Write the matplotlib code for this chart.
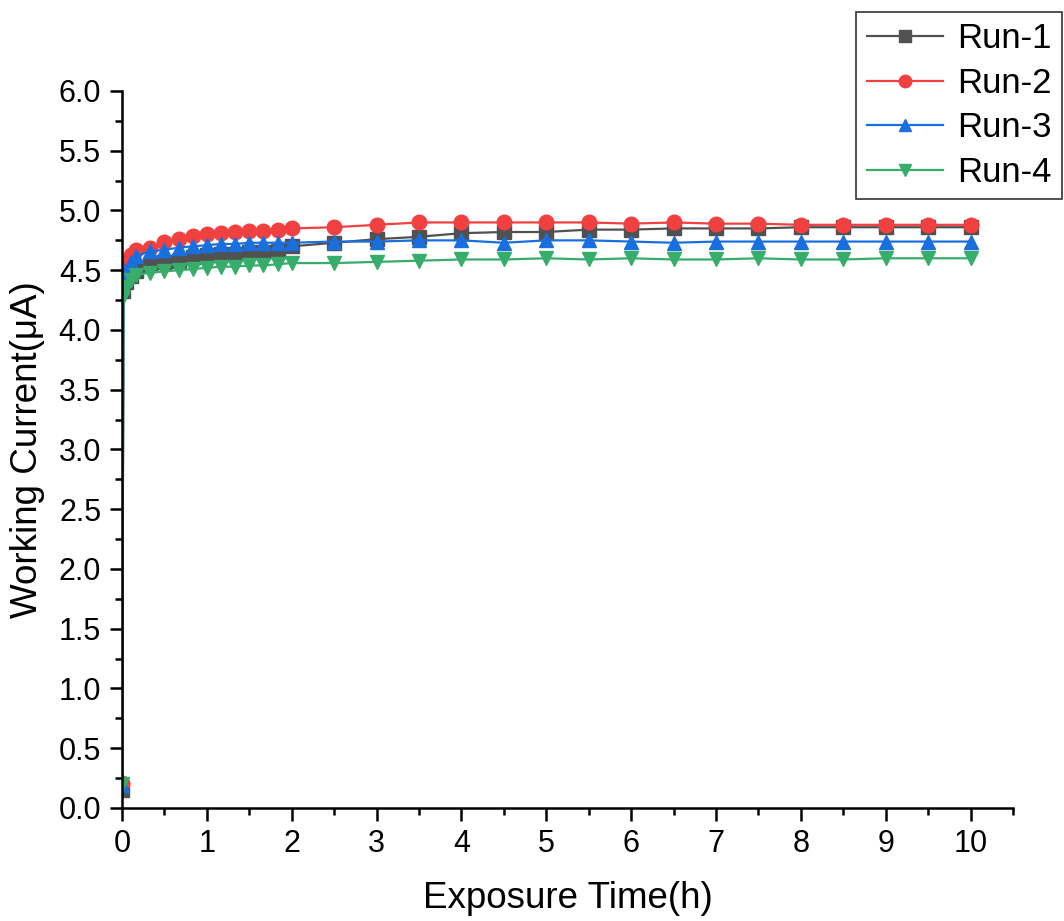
import matplotlib
matplotlib.use('Agg')
import matplotlib.pyplot as plt
from matplotlib.ticker import MultipleLocator

plt.rcParams['font.family'] = ['Liberation Sans', 'DejaVu Sans']

# exposure time (h)
hours = [0, 0.0167, 0.05, 0.1, 0.167,
         0.333, 0.5, 0.667, 0.833, 1.0, 1.167, 1.333, 1.5, 1.667, 1.833, 2.0,
         2.5, 3.0, 3.5, 4.0, 4.5, 5.0, 5.5, 6.0, 6.5, 7.0, 7.5, 8.0, 8.5, 9.0, 9.5, 10.0]

run1 = [0.15, 4.33, 4.40, 4.45, 4.49,
        4.54, 4.57, 4.58, 4.61, 4.63, 4.64, 4.64, 4.65, 4.65, 4.66, 4.70,
        4.73, 4.76, 4.78, 4.81, 4.82, 4.82, 4.84, 4.84, 4.85, 4.85, 4.85, 4.86, 4.86, 4.86, 4.86, 4.86]
run2 = [0.21, 4.52, 4.58, 4.63, 4.67,
        4.69, 4.74, 4.76, 4.79, 4.80, 4.81, 4.82, 4.83, 4.83, 4.84, 4.85,
        4.86, 4.88, 4.90, 4.90, 4.90, 4.90, 4.90, 4.89, 4.90, 4.89, 4.89, 4.88, 4.88, 4.88, 4.88, 4.88]
run3 = [0.19, 4.42, 4.50, 4.57, 4.62,
        4.66, 4.67, 4.69, 4.70, 4.71, 4.72, 4.72, 4.73, 4.73, 4.73, 4.73,
        4.74, 4.74, 4.75, 4.75, 4.73, 4.75, 4.75, 4.74, 4.73, 4.74, 4.74, 4.74, 4.74, 4.74, 4.74, 4.74]
run4 = [0.20, 4.28, 4.36, 4.42, 4.46,
        4.48, 4.49, 4.50, 4.51, 4.52, 4.53, 4.53, 4.54, 4.54, 4.55, 4.56,
        4.56, 4.57, 4.58, 4.59, 4.59, 4.60, 4.59, 4.60, 4.59, 4.59, 4.60, 4.59, 4.59, 4.60, 4.60, 4.60]

labels = ['Run-1', 'Run-2', 'Run-3', 'Run-4']
colors = ['#515151', '#F14040', '#1A6FDF', '#37AD6B']
markers = ['s', 'o', '^', 'v']

fig = plt.figure(figsize=(10.64, 9.21), dpi=100)
ax = fig.add_axes([0.1147, 0.1227, 0.8373, 0.7785])

for ys, lab, c, m in zip([run1, run2, run3, run4], labels, colors, markers):
    ax.plot(hours, ys, color=c, marker=m, markersize=10.5, linewidth=1.6, label=lab)

ax.set_xlim(0, 10.5)
ax.set_ylim(0, 6.0)
ax.xaxis.set_major_locator(MultipleLocator(1))
ax.xaxis.set_minor_locator(MultipleLocator(0.5))
ax.yaxis.set_major_locator(MultipleLocator(0.5))
ax.yaxis.set_minor_locator(MultipleLocator(0.25))
ax.yaxis.set_major_formatter(matplotlib.ticker.FormatStrFormatter('%.1f'))

for side in ['top', 'right']:
    ax.spines[side].set_visible(False)
for side in ['left', 'bottom']:
    ax.spines[side].set_linewidth(1.8)

ax.tick_params(which='major', direction='out', length=9, width=1.8, labelsize=22, pad=6)
ax.tick_params(which='minor', direction='out', length=5, width=1.8)

ax.set_xlabel('Exposure Time(h)', fontsize=26.5, labelpad=16)
ax.set_ylabel('Working Current(μA)', fontsize=26.5, labelpad=10)

leg = fig.legend(loc='upper right', bbox_to_anchor=(1062 / 1064, 1 - 12 / 921),
                 fontsize=25, frameon=True, fancybox=False, edgecolor='black',
                 handlelength=2.2, handletextpad=0.4, borderpad=0.3, labelspacing=0.33,
                 borderaxespad=0)
leg.get_frame().set_linewidth(1.2)
for h in leg.legend_handles:
    h.set_markersize(9)

fig.savefig('out.png', dpi=100)
